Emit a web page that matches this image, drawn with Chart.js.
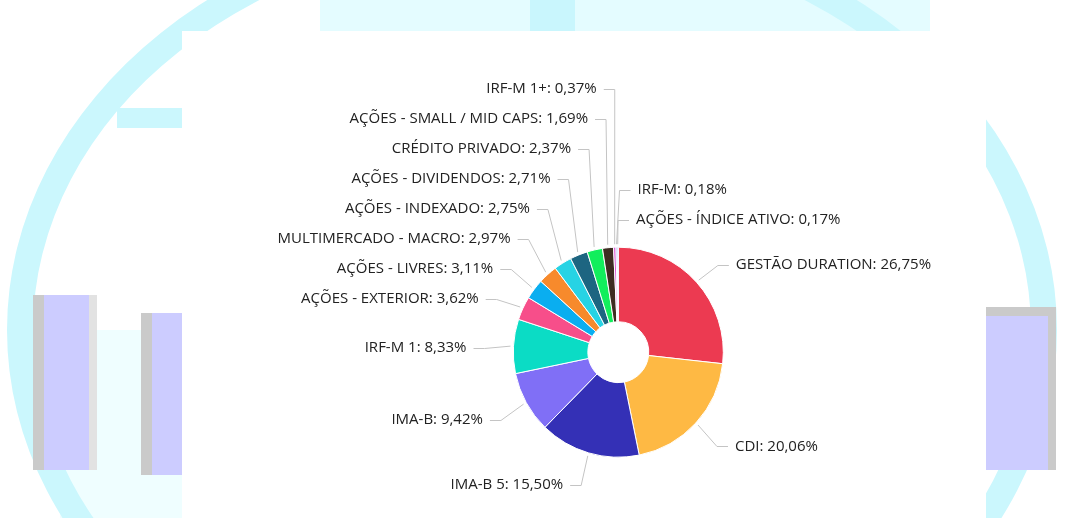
<!DOCTYPE html>
<html>
<head>
<meta charset="utf-8">
<script src="https://cdn.jsdelivr.net/npm/chart.js@4.4.0/dist/chart.umd.min.js"></script>
<style>
  html, body { margin: 0; padding: 0; width: 1065px; height: 518px; overflow: hidden; background: #fff; }
  .bg { position: absolute; box-sizing: border-box; }
  #painel { position: absolute; left: 182px; top: 31px; width: 804px; height: 487px; background: #fff; }
  #chart { position: absolute; left: 0; top: 0; }
</style>
</head>
<body>
<!-- fundo decorativo (marca d'agua pixelada) -->
<div class="bg" style="left:320px;top:0;width:610px;height:31px;background:#e4fcff"></div>
<div class="bg" style="left:530px;top:0;width:45px;height:31px;background:#c9f6fd"></div>
<div class="bg" style="left:60px;top:330px;width:130px;height:200px;background:#effeff"></div>
<div class="bg" style="left:7px;top:-90px;width:1050px;height:840px;border:26px solid #cbf7fd;border-radius:50%"></div>
<div class="bg" style="left:117px;top:108px;width:70px;height:20px;background:#cbf7fd"></div>
<div class="bg" style="left:33px;top:295px;width:64px;height:175px;background:#ccccff;border-left:11px solid #cacaca;border-right:8px solid #e2e2e2"></div>
<div class="bg" style="left:141px;top:313px;width:60px;height:162px;background:#ccccff;border-left:11px solid #cacaca"></div>
<div class="bg" style="left:986px;top:307px;width:70px;height:163px;background:#ccccff;border-top:9px solid #cacaca;border-right:8px solid #cacaca"></div>
<div id="painel"></div>
<canvas id="chart" width="1065" height="518"></canvas>
<script>
const categorias = [
  'GESTÃO DURATION', 'CDI', 'IMA-B 5', 'IMA-B', 'IRF-M 1',
  'AÇÕES - EXTERIOR', 'AÇÕES - LIVRES', 'MULTIMERCADO - MACRO', 'AÇÕES - INDEXADO',
  'AÇÕES - DIVIDENDOS', 'CRÉDITO PRIVADO', 'AÇÕES - SMALL / MID CAPS',
  'IRF-M 1+', 'IRF-M', 'AÇÕES - ÍNDICE ATIVO'
];
const percentuais = [26.75, 20.06, 15.50, 9.42, 8.33, 3.62, 3.11, 2.97, 2.75, 2.71, 2.37, 1.69, 0.37, 0.18, 0.17];
const cores = [
  '#ec3a51', '#feb944', '#3430b6', '#806ff6', '#0bdcc5',
  '#f74e8a', '#0aaef0', '#f78a2c', '#27d3e4',
  '#1d6581', '#12ee5c', '#3e2d22',
  '#d94fd0', '#4d7cf5', '#8f75f2'
];

const DIST = 30;      // distancia do rotulo ate a borda da fatia
const SPACING = 30;   // altura minima entre rotulos

function fmt(v){ return v.toFixed(2).replace('.', ',') + '%'; }

const rotulos = {
  id: 'rotulos',
  afterDatasetsDraw(chart){
    const ctx = chart.ctx;
    const arcs = chart.getDatasetMeta(0).data;
    const lados = { left: [], right: [] };
    arcs.forEach((arc, i) => {
      const p = arc.getProps(['x', 'y', 'startAngle', 'endAngle', 'outerRadius']);
      const mid = (p.startAngle + p.endAngle) / 2;
      const ux = Math.cos(mid), uy = Math.sin(mid);
      const item = {
        i, cx: p.x, cy: p.y, r: p.outerRadius, ux, uy,
        ang: Math.atan2(ux, -uy),
        natY: p.y + (p.outerRadius + DIST) * uy + 3
      };
      // fatias quase no topo ficam do lado direito como no original
      (ux > -0.025 ? lados.right : lados.left).push(item);
    });
    lados.right.sort((a, b) => a.ang - b.ang);
    lados.left.sort((a, b) => b.ang - a.ang);

    ctx.save();
    ctx.font = '15px "Open Sans", sans-serif';
    ctx.textBaseline = 'middle';
    ['left', 'right'].forEach(lado => {
      const lst = lados[lado];
      // empurra para cima a partir de baixo
      for (let k = lst.length - 1; k >= 0; k--) {
        const lim = k === lst.length - 1 ? chart.height - 10 : lst[k + 1].y - SPACING;
        lst[k].y = Math.min(lst[k].natY, lim);
      }
      for (let k = 0; k < lst.length; k++) {
        const lim = k === 0 ? 20 : lst[k - 1].y + SPACING;
        lst[k].y = Math.max(lst[k].y, lim);
      }
      const dir = lado === 'right' ? 1 : -1;
      lst.forEach(it => {
        const tx = it.cx + dir * ((it.r + DIST) * Math.abs(it.ux) + 17);
        const ex = it.cx + (it.r + 3) * it.ux;
        const ey = it.cy + (it.r + 3) * it.uy;
        const x0 = tx - dir * 7;
        ctx.strokeStyle = '#c4c4c4';
        ctx.lineWidth = 1;
        ctx.beginPath();
        ctx.moveTo(x0, Math.round(it.y) + 0.5);
        ctx.lineTo(x0 - dir * 11, Math.round(it.y) + 0.5);
        ctx.lineTo(ex, ey);
        ctx.stroke();
        ctx.fillStyle = '#222';
        ctx.textAlign = lado === 'right' ? 'left' : 'right';
        ctx.fillText(categorias[it.i] + ': ' + fmt(percentuais[it.i]), tx, it.y);
      });
    });
    ctx.restore();
  }
};

new Chart(document.getElementById('chart').getContext('2d'), {
  type: 'doughnut',
  data: {
    labels: categorias,
    datasets: [{
      data: percentuais,
      backgroundColor: cores,
      borderColor: '#ffffff',
      borderWidth: 1
    }]
  },
  options: {
    responsive: false,
    animation: false,
    cutout: '29%',
    layout: { padding: { left: 512.8, right: 341.2, top: 246.7, bottom: 60.3 } },
    plugins: { legend: { display: false }, tooltip: { enabled: false } }
  },
  plugins: [rotulos]
});
</script>
</body>
</html>
